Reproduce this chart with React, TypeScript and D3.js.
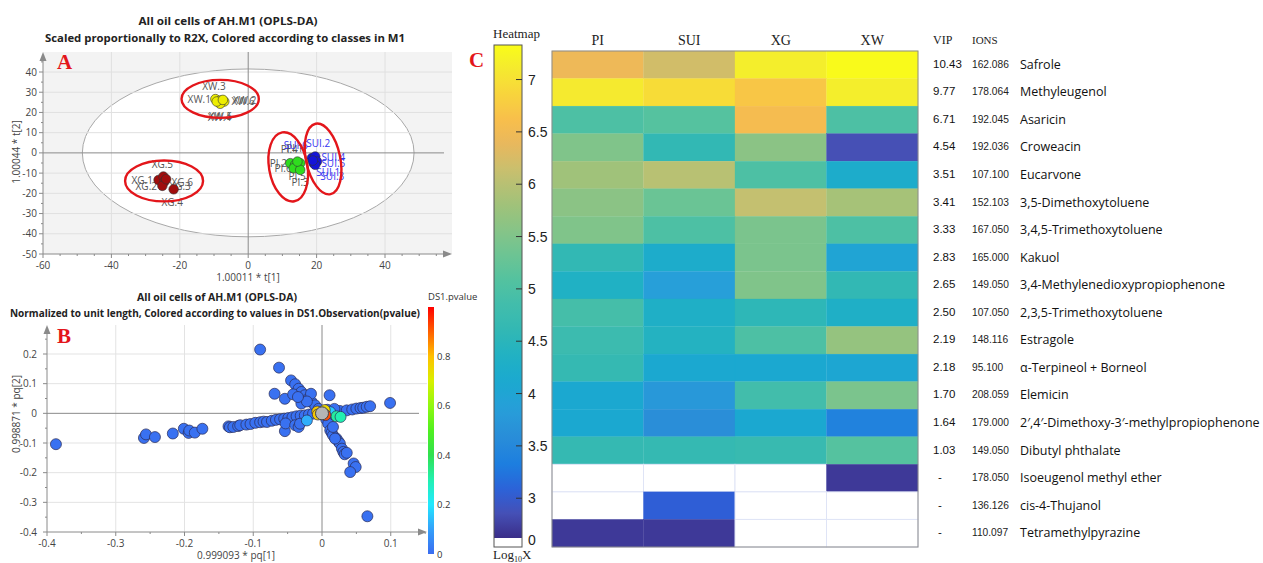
import React from "react";
import * as d3 from "d3";

// ---------- Panel A: OPLS-DA scores ----------
const classNames = ["PI", "SUI", "XG", "XW"];
const classColors = ["#2fdc1e", "#1414d8", "#a00d0d", "#eeee00"];
const labelColors = ["#555555", "#3535f0", "#555555", "#555555"];

const scoresPI = [[12.3, -5.1], [13.7, -5.9], [13.3, -7.6], [15.2, -5.1], [15.2, -8.4], [14.4, -4.3]];
const scoresSUI = [[18.6, -2.6], [19.6, -1.8], [19.1, -5.1], [20.1, -4.3], [19.6, -5.9], [18.9, -3.8]];
const scoresXG = [[-26.2, -13.4], [-24.8, -11.7], [-24.5, -14.2], [-25.1, -16.3], [-21.8, -18.0], [-24.0, -13.0]];
const scoresXW = [[-9.6, 26.6], [-8.2, 25.9], [-7.0, 25.4], [-8.2, 24.3], [-9.2, 25.4], [-7.4, 26.2]];

const labelsPI: [string, number, number][] = [["PI.1", 13.6, 2.2], ["PI.2", 8.8, -5.4], ["PI.3", 15.2, -14.4], ["PI.4", 12.0, 1.6], ["PI.5", 14.3, -11.9], ["PI.6", 10.2, -7.9]];
const labelsSUI: [string, number, number][] = [["SUI.1", 23.4, -9.9], ["SUI.2", 20.5, 4.5], ["SUI.3", 24.6, -11.9], ["SUI.4", 24.9, -2.5], ["SUI.5", 24.9, -5.0], ["SUI.6", 13.9, 3.6]];
const labelsXG: [string, number, number][] = [["XG.1", -31.0, -13.9], ["XG.2", -29.8, -16.8], ["XG.3", -19.9, -16.8], ["XG.4", -22.2, -24.3], ["XG.5", -25.1, -5.6], ["XG.6", -19.3, -14.4]];
const labelsXW: [string, number, number][] = [["XW.1", -14.3, 26.2], ["XW.2", -1.0, 25.9], ["XW.3", -10.0, 32.7], ["XW.4", -8.4, 17.5], ["XW.5", -8.1, 17.8], ["XW.6", -1.5, 25.6]];

// class ellipses: centre x, centre y, radius x, radius y (score units), tilt (deg)
const classEllipses = [
  [11.7, -6.9, 5.6, 17.3, -10],
  [21.9, -3.0, 5.0, 17.8, -12],
  [-24.6, -13.9, 11.4, 10.1, 0],
  [-8.2, 26.7, 11.3, 9.4, 0],
];
const hotellingRadii = [48.5, 41.5];
const aTicksX = [-60, -40, -20, 0, 20, 40];
const aTicksY = [40, 30, 20, 10, 0, -10, -20, -30, -40, -50];

// ---------- Panel B: loadings [pq1, pq2, pvalue] ----------
const loadings = [
  [-0.387, -0.104, 0.01], [-0.259, -0.083, 0.01], [-0.256, -0.071, 0.01], [-0.243, -0.08, 0.01], [-0.217, -0.068, 0.01],
  [-0.201, -0.052, 0.01], [-0.194, -0.066, 0.01], [-0.193, -0.058, 0.01], [-0.185, -0.065, 0.01], [-0.174, -0.052, 0.01],
  [-0.136, -0.044, 0.01], [-0.134, -0.047, 0.01], [-0.129, -0.046, 0.01], [-0.122, -0.043, 0.01], [-0.119, -0.04, 0.01],
  [-0.11, -0.038, 0.01], [-0.104, -0.036, 0.01], [-0.097, -0.032, 0.01], [-0.09, -0.03, 0.01], [-0.085, -0.028, 0.01],
  [-0.08, -0.029, 0.01], [-0.073, -0.025, 0.01], [-0.067, -0.022, 0.01], [-0.061, -0.02, 0.01], [-0.055, -0.018, 0.01],
  [-0.049, -0.016, 0.01], [-0.043, -0.013, 0.01], [-0.037, -0.01, 0.01], [-0.031, -0.008, 0.01], [-0.025, -0.007, 0.01],
  [-0.019, -0.004, 0.01], [-0.013, -0.001, 0.01], [-0.054, -0.06, 0.01], [-0.053, -0.034, 0.01], [-0.039, -0.04, 0.01],
  [-0.034, -0.046, 0.01], [-0.032, -0.035, 0.01],
  [-0.09, 0.215, 0.01], [-0.0625, 0.154, 0.01], [-0.045, 0.111, 0.01], [-0.039, 0.098, 0.01], [-0.034, 0.083, 0.01],
  [-0.03, 0.072, 0.01], [-0.025, 0.061, 0.01], [-0.02, 0.049, 0.01], [-0.015, 0.038, 0.01], [-0.01, 0.027, 0.01],
  [-0.005, 0.015, 0.01], [-0.069, 0.066, 0.01], [-0.054, 0.049, 0.01], [-0.042, 0.064, 0.01], [-0.03, 0.033, 0.01],
  [-0.016, 0.066, 0.01], [0.011, 0.061, 0.01], [-0.022, 0.04, 0.01], [-0.035, 0.055, 0.01],
  [0.016, 0.004, 0.01], [0.026, 0.008, 0.01], [0.036, 0.01, 0.01], [0.044, 0.013, 0.01], [0.05, 0.016, 0.01],
  [0.056, 0.018, 0.01], [0.06, 0.019, 0.01], [0.065, 0.022, 0.01], [0.07, 0.024, 0.01], [0.099, 0.035, 0.01],
  [0.008, 0.012, 0.01], [0.018, 0.015, 0.01],
  [0.006, -0.02, 0.01], [0.009, -0.035, 0.01], [0.012, -0.057, 0.01], [0.014, -0.065, 0.01], [0.016, -0.074, 0.01],
  [0.021, -0.085, 0.01], [0.024, -0.095, 0.01], [0.026, -0.102, 0.01], [0.029, -0.119, 0.01], [0.031, -0.13, 0.01],
  [0.033, -0.138, 0.01], [0.036, -0.133, 0.01], [0.046, -0.169, 0.01], [0.049, -0.181, 0.01], [0.041, -0.198, 0.01],
  [0.066, -0.347, 0.01], [0.016, -0.046, 0.01], [0.019, -0.085, 0.01],
  [-0.022, -0.024, 0.12], [0.012, 0.004, 0.16], [0.021, -0.01, 0.32], [0.027, -0.012, 0.3],
  [-0.007, 0.006, 0.78], [0.004, 0.011, 0.75], [-0.006, -0.004, 0.78], [0.005, -0.006, 0.92],
];
const centrePoint = [0.0, 0.0];
const bTicksX = [-0.4, -0.3, -0.2, -0.1, 0, 0.1];
const bTicksY = [0.2, 0.1, 0, -0.1, -0.2, -0.3, -0.4];
const pTicks = [0, 0.2, 0.4, 0.6, 0.8];
const jetStops = [0, 0.1, 0.2, 0.3, 0.4, 0.5, 0.6, 0.7, 0.8, 0.9, 1];
const jetColors = ["#3a6cf0", "#34a0fa", "#22e8ff", "#22f0b0", "#30e050", "#50f020", "#90f810", "#d8f000", "#ffc000", "#ff6000", "#ff0000"];

// ---------- Panel C: heatmap ----------
const hmColumns = ["PI", "SUI", "XG", "XW"];
const compounds = [
  "Safrole", "Methyleugenol", "Asaricin", "Croweacin", "Eucarvone", "3,5-Dimethoxytoluene",
  "3,4,5-Trimethoxytoluene", "Kakuol", "3,4-Methylenedioxypropiophenone", "2,3,5-Trimethoxytoluene",
  "Estragole", "α-Terpineol + Borneol", "Elemicin", "2′,4′-Dimethoxy-3′-methylpropiophenone",
  "Dibutyl phthalate", "Isoeugenol methyl ether", "cis-4-Thujanol", "Tetramethylpyrazine",
];
const vipValues = ["10.43", "9.77", "6.71", "4.54", "3.51", "3.41", "3.33", "2.83", "2.65", "2.50", "2.19", "2.18", "1.70", "1.64", "1.03", "-", "-", "-"];
const ionValues = ["162.086", "178.064", "192.045", "192.036", "107.100", "152.103", "167.050", "165.000", "149.050", "107.050", "148.116", "95.100", "208.059", "179.000", "149.050", "178.050", "136.126", "110.097"];
const hmValues = [
  [6.45, 6.2, 7.15, 7.3],
  [7.1, 6.95, 6.7, 7.15],
  [5.0, 5.1, 6.55, 5.0],
  [5.5, 4.6, 5.6, 2.85],
  [5.8, 6.0, 5.0, 4.2],
  [5.6, 5.3, 6.1, 5.85],
  [5.5, 5.0, 5.45, 5.0],
  [4.6, 4.2, 5.45, 4.0],
  [4.35, 3.85, 5.5, 4.6],
  [4.9, 4.3, 4.55, 4.3],
  [4.75, 4.4, 5.0, 5.7],
  [4.65, 4.1, 4.1, 4.05],
  [4.1, 3.75, 4.85, 5.45],
  [4.1, 3.6, 4.1, 3.4],
  [4.65, 4.65, 4.7, 5.1],
  [0, 0, 0, 2.7],
  [0, 3.05, 0, 0],
  [2.7, 2.7, 0, 0],
];
const cbTicks = [7, 6.5, 6, 5.5, 5, 4.5, 4, 3.5, 3];
const cbRange = [2.62, 7.33];
const cmapStops = [2.62, 2.85, 3.05, 3.3, 3.6, 3.85, 4.1, 4.35, 4.6, 4.9, 5.1, 5.3, 5.5, 5.8, 6.1, 6.4, 6.6, 6.9, 7.15, 7.33];
const cmapColors = ["#3a2d88", "#4650b5", "#2f5ed6", "#1c7ce0", "#2a8ed8", "#279fd9", "#1ba8d0", "#20b1c4", "#32b8b4", "#45bea9", "#55c29f", "#6ac495", "#80c48a", "#a0c27a", "#c4c070", "#eab85c", "#f8bd4c", "#f8d83a", "#f4ee2c", "#fafc18"];

const SANS = "'Open Sans', 'Liberation Sans', sans-serif";
const ARIAL = "'Liberation Sans', Arial, sans-serif";
const SERIF = "'Liberation Serif', 'Times New Roman', serif";

export default function App() {
  // ---- Panel A scales
  const xA = d3.scaleLinear().domain([-60, 40]).range([43, 385]);
  const yA = d3.scaleLinear().domain([-50, 40]).range([254, 72]);
  const aLeft = 43, aRight = 452, aTop = 52, aBottom = 254;

  // ---- Panel B scales
  const xB = d3.scaleLinear().domain([-0.4, 0]).range([47, 322]);
  const yB = d3.scaleLinear().domain([-0.4, 0.2]).range([532, 354]);
  const bLeft = 47, bRight = 427, bTop = 325, bBottom = 532;
  const jet = d3.scaleLinear<string>().domain(jetStops).range(jetColors).interpolate(d3.interpolateRgb);
  const yP = d3.scaleLinear().domain([0, 1]).range([554, 307]);

  // ---- Panel C scales
  const xH = d3.scaleBand().domain(hmColumns).range([552, 918]);
  const yH = d3.scaleBand().domain(compounds).range([51, 547]);
  const cmap = d3.scaleLinear<string>().domain(cmapStops).range(cmapColors).interpolate(d3.interpolateRgb);
  const yCB = d3.scaleLinear().domain(cbRange).range([538, 45]);

  const groups = [
    { pts: scoresPI, labels: labelsPI },
    { pts: scoresSUI, labels: labelsSUI },
    { pts: scoresXG, labels: labelsXG },
    { pts: scoresXW, labels: labelsXW },
  ];

  const aMinorX = d3.range(-60, 56, 5);
  const aMinorY = d3.range(-50, 50, 5);
  const bMinorX = d3.range(-0.4, 0.151, 0.05);
  const bMinorY = d3.range(-0.4, 0.3, 0.05);

  const cbGradStops = d3.range(0, 41).map((i) => {
    const v = cbRange[0] + ((cbRange[1] - cbRange[0]) * i) / 40;
    return { off: i / 40, col: cmap(v) };
  });
  const jetGradStops = d3.range(0, 21).map((i) => ({ off: i / 20, col: jet(i / 20) }));

  const blue = loadings.filter((d) => d[2] < 0.05);
  const colored = loadings.filter((d) => d[2] >= 0.05);

  return (
    <svg width={1263} height={563} style={{ position: "absolute", left: 0, top: 0, background: "#fff" }} fontFamily={SANS}>
      <defs>
        <linearGradient id="cbGrad" x1="0" y1="1" x2="0" y2="0">
          {cbGradStops.map((s, i) => (
            <stop key={i} offset={s.off} stopColor={s.col} />
          ))}
        </linearGradient>
        <linearGradient id="jetGrad" x1="0" y1="1" x2="0" y2="0">
          {jetGradStops.map((s, i) => (
            <stop key={i} offset={s.off} stopColor={s.col} />
          ))}
        </linearGradient>
        <clipPath id="clipA">
          <rect x={aLeft} y={aTop} width={aRight - aLeft} height={aBottom - aTop} />
        </clipPath>
      </defs>

      {/* ================= PANEL A ================= */}
      <text x={228} y={25} textAnchor="middle" fontWeight="bold" fontSize={11} textLength={179} lengthAdjust="spacingAndGlyphs" fill="#222">
        All oil cells of AH.M1 (OPLS-DA)
      </text>
      <text x={225} y={42} textAnchor="middle" fontWeight="bold" fontSize={11} textLength={360} lengthAdjust="spacingAndGlyphs" fill="#222">
        Scaled proportionally to R2X, Colored according to classes in M1
      </text>
      <rect x={aLeft} y={aTop} width={aRight - aLeft} height={aBottom - aTop} fill="#f3f3f3" />
      <g clipPath="url(#clipA)">
        <ellipse cx={xA(0)} cy={yA(0)} rx={xA(hotellingRadii[0]) - xA(0)} ry={yA(0) - yA(hotellingRadii[1])} fill="#fff" stroke="#a8a8a8" strokeWidth={1} />
      </g>
      {aTicksX.filter((t) => t !== 0 && t !== -60).map((t) => (
        <line key={"agx" + t} x1={xA(t)} x2={xA(t)} y1={aTop} y2={aBottom} stroke="#e0e0e0" />
      ))}
      {aTicksY.filter((t) => t !== 0 && t !== -50).map((t) => (
        <line key={"agy" + t} x1={aLeft} x2={aRight} y1={yA(t)} y2={yA(t)} stroke="#e0e0e0" />
      ))}
      <line x1={xA(0)} x2={xA(0)} y1={aTop} y2={aBottom} stroke="#8a8a8a" />
      <line x1={aLeft} x2={aRight - 8} y1={yA(0)} y2={yA(0)} stroke="#8a8a8a" />
      {/* axes */}
      <line x1={aLeft} x2={aLeft} y1={aBottom} y2={aTop + 6} stroke="#8a8a8a" />
      <line x1={aLeft} x2={aRight - 6} y1={aBottom} y2={aBottom} stroke="#8a8a8a" />
      <path d={`M${aLeft},${aTop} L${aLeft - 3.5},${aTop + 9} L${aLeft + 3.5},${aTop + 9} Z`} fill="#8a8a8a" />
      <path d={`M${aRight},${aBottom} L${aRight - 9},${aBottom - 3.5} L${aRight - 9},${aBottom + 3.5} Z`} fill="#8a8a8a" />
      {aMinorX.map((t) => (
        <line key={"amx" + t} x1={xA(t)} x2={xA(t)} y1={aBottom} y2={aBottom + (t % 20 === 0 ? 4 : 2)} stroke="#8a8a8a" />
      ))}
      {aMinorY.map((t) => (
        <line key={"amy" + t} x1={aLeft} x2={aLeft - (t % 10 === 0 ? 4 : 2)} y1={yA(t)} y2={yA(t)} stroke="#8a8a8a" />
      ))}
      {aTicksX.map((t) => (
        <text key={"atx" + t} x={xA(t)} y={269} textAnchor="middle" fontSize={10} fill="#444">
          {t}
        </text>
      ))}
      {aTicksY.map((t) => (
        <text key={"aty" + t} x={37} y={yA(t) + 3.5} textAnchor="end" fontSize={10} fill="#444">
          {t}
        </text>
      ))}
      <text x={248} y={281} textAnchor="middle" fontSize={10} fill="#444">1.00011 * t[1]</text>
      <text transform={`translate(20,152) rotate(-90)`} textAnchor="middle" fontSize={10} fill="#444">1.00044 * t[2]</text>

      {groups.map((g, gi) => (
        <g key={"lab" + gi}>
          {g.labels.map((l) => (
            <text key={l[0]} x={xA(l[1])} y={yA(l[2]) + 3.5} textAnchor="middle" fontSize={10} fill={labelColors[gi]}>
              {l[0]}
            </text>
          ))}
        </g>
      ))}
      {groups.map((g, gi) => (
        <g key={"pts" + gi}>
          {g.pts.map((p, i) => (
            <circle key={i} cx={xA(p[0])} cy={yA(p[1])} r={4.8} fill={classColors[gi]} stroke="#333" strokeWidth={0.6} />
          ))}
        </g>
      ))}
      {classEllipses.map((e, i) => {
        const cx = xA(e[0]);
        const cy = yA(e[1]);
        const rx = xA(e[0] + e[2]) - cx;
        const ry = cy - yA(e[1] + e[3]);
        return <ellipse key={"ce" + i} cx={cx} cy={cy} rx={rx} ry={ry} transform={`rotate(${e[4]},${cx},${cy})`} fill="none" stroke="#e3161b" strokeWidth={2.4} />;
      })}
      <text x={57} y={69} fontFamily={SERIF} fontWeight="bold" fontSize={21} fill="#e3161b">A</text>

      {/* ================= PANEL B ================= */}
      <text x={217} y={301} textAnchor="middle" fontWeight="bold" fontSize={10} textLength={160} lengthAdjust="spacingAndGlyphs" fill="#222">
        All oil cells of AH.M1 (OPLS-DA)
      </text>
      <text x={215} y={317} textAnchor="middle" fontWeight="bold" fontSize={10} textLength={410} lengthAdjust="spacingAndGlyphs" fill="#222">
        Normalized to unit length, Colored according to values in DS1.Observation(pvalue)
      </text>
      {bTicksX.filter((t) => t !== 0 && t !== -0.4).map((t) => (
        <line key={"bgx" + t} x1={xB(t)} x2={xB(t)} y1={bTop} y2={bBottom} stroke="#e3e3e3" />
      ))}
      {bTicksY.filter((t) => t !== 0 && t !== -0.4).map((t) => (
        <line key={"bgy" + t} x1={bLeft} x2={bRight} y1={yB(t)} y2={yB(t)} stroke="#e3e3e3" />
      ))}
      <line x1={xB(0)} x2={xB(0)} y1={bTop} y2={bBottom} stroke="#8a8a8a" />
      <line x1={bLeft} x2={bRight - 8} y1={yB(0)} y2={yB(0)} stroke="#8a8a8a" />
      <line x1={bLeft} x2={bLeft} y1={bBottom} y2={bTop + 6} stroke="#8a8a8a" />
      <line x1={bLeft} x2={bRight - 6} y1={bBottom} y2={bBottom} stroke="#8a8a8a" />
      <path d={`M${bLeft},${bTop} L${bLeft - 3.5},${bTop + 9} L${bLeft + 3.5},${bTop + 9} Z`} fill="#8a8a8a" />
      <path d={`M${bRight},${bBottom} L${bRight - 9},${bBottom - 3.5} L${bRight - 9},${bBottom + 3.5} Z`} fill="#8a8a8a" />
      {bMinorX.map((t, i) => (
        <line key={"bmx" + i} x1={xB(t)} x2={xB(t)} y1={bBottom} y2={bBottom + (i % 2 === 0 ? 4 : 2)} stroke="#8a8a8a" />
      ))}
      {bMinorY.map((t, i) => (
        <line key={"bmy" + i} x1={bLeft} x2={bLeft - (i % 2 === 0 ? 4 : 2)} y1={yB(t)} y2={yB(t)} stroke="#8a8a8a" />
      ))}
      {bTicksX.map((t) => (
        <text key={"btx" + t} x={xB(t)} y={547} textAnchor="middle" fontSize={10} fill="#444">
          {t}
        </text>
      ))}
      {bTicksY.map((t) => (
        <text key={"bty" + t} x={37} y={yB(t) + 3.5} textAnchor="end" fontSize={10} fill="#444">
          {t}
        </text>
      ))}
      <text x={236} y={559} textAnchor="middle" fontSize={10} fill="#444">0.999093 * pq[1]</text>
      <text transform={`translate(20,414) rotate(-90)`} textAnchor="middle" fontSize={10} fill="#444">0.998871 * pq[2]</text>

      {blue.map((d, i) => (
        <circle key={"bb" + i} cx={xB(d[0])} cy={yB(d[1])} r={5.5} fill={jet(d[2])} stroke="#2b2b55" strokeWidth={0.7} />
      ))}
      {colored.map((d, i) => (
        <circle key={"bc" + i} cx={xB(d[0])} cy={yB(d[1])} r={5.5} fill={jet(d[2])} stroke="#2b2b55" strokeWidth={0.7} />
      ))}
      <circle cx={xB(centrePoint[0])} cy={yB(centrePoint[1])} r={6.5} fill="#b4b4b4" stroke="#444" strokeWidth={1} />
      <text x={57} y={343} fontFamily={SERIF} fontWeight="bold" fontSize={21} fill="#e3161b">B</text>

      {/* colour bar B */}
      <text x={428} y={300} fontSize={9.5} fill="#333">DS1.pvalue</text>
      <rect x={428} y={yP(1)} width={6} height={yP(0) - yP(1)} fill="url(#jetGrad)" />
      {pTicks.map((t) => (
        <text key={"pt" + t} x={437} y={yP(t) + 3.5} fontSize={9.5} fill="#333">
          {t}
        </text>
      ))}

      {/* ================= PANEL C ================= */}
      <text x={469} y={67} fontFamily={SERIF} fontWeight="bold" fontSize={21} fill="#e3161b">C</text>
      <text x={493} y={38} fontFamily={SERIF} fontSize={13} fill="#222">Heatmap</text>
      <rect x={494} y={yCB(cbRange[1])} width={28} height={yCB(cbRange[0]) - yCB(cbRange[1])} fill="url(#cbGrad)" />
      <rect x={494} y={yCB(cbRange[0])} width={28} height={9} fill="#fff" />
      <rect x={494} y={yCB(cbRange[1])} width={28} height={547 - yCB(cbRange[1])} fill="none" stroke="#555" strokeWidth={1} />
      {cbTicks.map((t) => (
        <g key={"cbt" + t}>
          <line x1={516} x2={522} y1={yCB(t)} y2={yCB(t)} stroke="#333" strokeWidth={1} />
          <text x={528} y={yCB(t) + 5} fontFamily={ARIAL} fontSize={14} fill="#222">
            {t}
          </text>
        </g>
      ))}
      <text x={528} y={545} fontFamily={ARIAL} fontSize={14} fill="#222">0</text>
      <text x={493} y={559} fontFamily={SERIF} fontSize={13} fill="#222">
        Log<tspan fontSize={8} dy={3}>10</tspan>
        <tspan dy={-3}>X</tspan>
      </text>

      {hmColumns.map((c) => (
        <text key={"hc" + c} x={(xH(c) as number) + xH.bandwidth() / 2} y={45} textAnchor="middle" fontFamily={SERIF} fontSize={14} fill="#222">
          {c}
        </text>
      ))}
      {compounds.map((name, ri) =>
        hmColumns.map((c, ci) => {
          const v = hmValues[ri][ci];
          const x = xH(c) as number;
          const y = yH(name) as number;
          return (
            <rect
              key={name + c}
              x={x}
              y={y}
              width={xH.bandwidth()}
              height={yH.bandwidth()}
              fill={v > 0 ? cmap(v) : "#ffffff"}
              stroke={v > 0 ? cmap(v) : "#dfe4f6"}
              strokeWidth={v > 0 ? 0.3 : 1}
            />
          );
        })
      )}
      <rect x={552} y={51} width={366} height={496} fill="none" stroke="#8c8c8c" strokeWidth={1} />

      <text x={933} y={44} fontFamily={SERIF} fontSize={12} fill="#222">VIP</text>
      <text x={972} y={44} fontFamily={SERIF} fontSize={11} fill="#222">IONS</text>
      {compounds.map((name, ri) => {
        const cy = (yH(name) as number) + yH.bandwidth() / 2;
        const vip = vipValues[ri];
        return (
          <g key={"row" + ri}>
            <text x={vip === "-" ? 938 : 933} y={cy + 3} fontFamily={ARIAL} fontSize={11.5} fill="#111">
              {vip}
            </text>
            <text x={972} y={cy + 3} fontFamily={ARIAL} fontSize={10.2} fill="#222">
              {ionValues[ri]}
            </text>
            <text x={1020} y={cy + 4} fontFamily={SANS} fontSize={12.5} fill="#111">
              {name}
            </text>
          </g>
        );
      })}
    </svg>
  );
}
